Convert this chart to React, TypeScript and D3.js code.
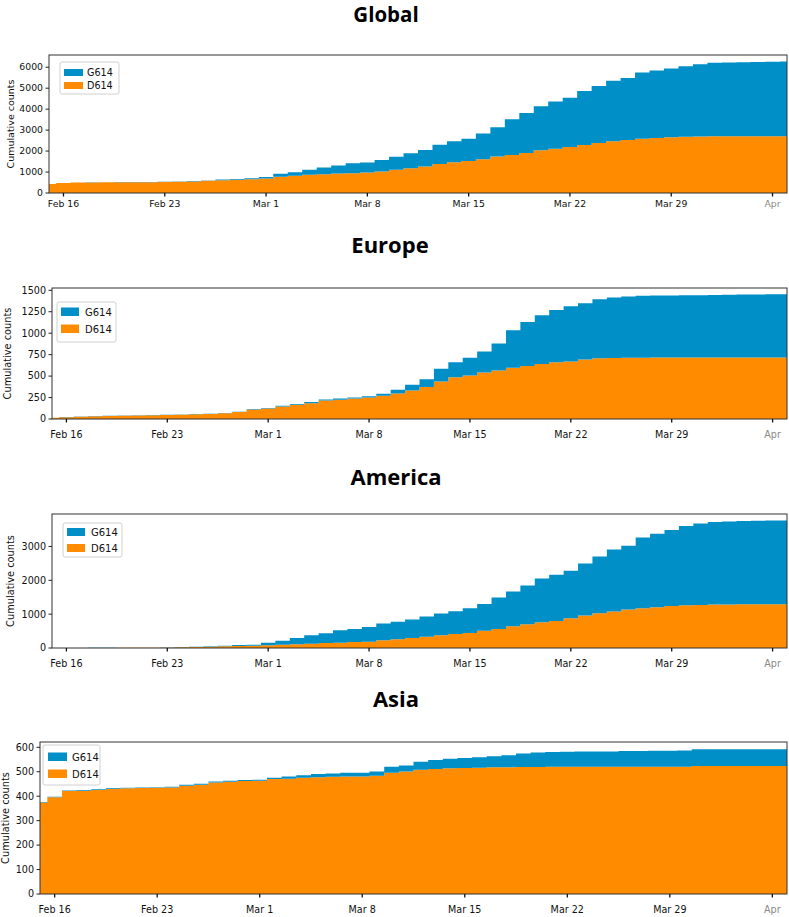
import React from 'react';
import * as d3 from 'd3';

// ---- categories (daily dates Feb 15 .. Apr 6, 2020) ----
const START = new Date(2020, 1, 15);
const END = new Date(2020, 3, 6);
const dates: Date[] = d3.timeDay.range(START, d3.timeDay.offset(END, 1));

// ---- tick labels ----
const tickDates: Date[] = [
  new Date(2020, 1, 16), new Date(2020, 1, 23), new Date(2020, 2, 1), new Date(2020, 2, 8),
  new Date(2020, 2, 15), new Date(2020, 2, 22), new Date(2020, 2, 29), new Date(2020, 3, 5),
];
const tickLabels = ['Feb 16', 'Feb 23', 'Mar 1', 'Mar 8', 'Mar 15', 'Mar 22', 'Mar 29', 'Apr'];

// ---- series: cumulative counts ----
const globalD614 = [427,474,500,505,508,512,515,518,522,537, 553,580,610,630,660,695,774,821,869,900, 932,948,980,1027,1104,1183,1262,1389,1469,1531, 1611,1737,1816,1911,2037,2116,2195,2290,2385,2464, 2527,2588,2622,2654,2685,2700,2702,2708,2710,2711, 2711,2711];
const globalG614 = [3,4,6,7,7,7,7,8,10,11, 15,20,30,38,45,65,142,174,237,316, 379,474,480,553,631,713,790,914,995,1057, 1232,1405,1705,1909,2100,2244,2355,2573,2715,2891, 2955,3161,3222,3284,3363,3442,3507,3515,3528,3541, 3554,3559];

const europeD614 = [15,20,27,32,35,38,42,44,47,50, 55,58,68,82,112,122,146,165,185,215, 225,238,250,272,296,331,373,438,488,508, 542,565,596,619,642,662,669,692,708,712, 714,715,716,716,717,717,718,718,718,718, 718,718];
const europeG614 = [1,2,2,2,2,2,2,2,2,2, 2,2,2,3,4,6,9,11,12,13, 13,13,15,23,46,69,89,147,174,207, 246,316,439,512,566,607,646,658,688,703, 713,720,722,723,725,726,728,729,732,733, 736,736];

const americaD614 = [1,2,2,3,3,4,5,6,10,25, 32,40,50,59,69,79,99,109,128,148, 158,178,188,227,257,296,336,375,415,444, 513,563,642,701,760,800,879,958,1027,1076, 1135,1175,1204,1244,1264,1273,1283,1285,1290,1293, 1293,1293];
const americaG614 = [1,1,1,1,2,2,2,3,5,5, 8,10,19,30,30,79,118,187,247,286, 365,385,434,494,518,543,592,642,671,731, 790,928,1026,1145,1293,1362,1401,1539,1678,1836, 1886,2093,2172,2241,2339,2409,2439,2456,2461,2468, 2478,2478];

const asiaD614 = [374,396,421,422,425,430,432,433,434,436, 443,447,456,459,462,463,470,471,475,477, 479,481,481,484,496,501,508,511,514,515, 516,518,518,519,519,520,520,520,520,520, 520,520,520,520,520,523,523,523,523,523, 523,523];
const asiaG614 = [2,2,2,3,3,3,3,3,3,3, 4,4,4,4,4,4,5,10,11,14, 14,15,15,17,24,25,33,37,39,41, 43,45,49,56,60,61,62,63,63,63, 65,65,66,66,67,69,69,69,69,69, 69,69];

const globalTicks = [0, 1000, 2000, 3000, 4000, 5000, 6000];
const europeTicks = [0, 250, 500, 750, 1000, 1250, 1500];
const americaTicks = [0, 1000, 2000, 3000];
const asiaTicks = [0, 100, 200, 300, 400, 500, 600];

const BLUE = '#008fc7';
const ORANGE = '#ff8c00';

type Layout = {
  left: number; right: number; top: number; bottom: number;
  titleX: number; titleY: number; titleFs: number; ylabelX: number; fs: number;
  xLabelDy: number;
  leg: { x: number; y: number; w: number; h: number; px: number; pw: number; ph: number; y1: number; y2: number; tx: number; fs: number };
};

function Panel({ title, d, g, yTicks, L }: { title: string; d: number[]; g: number[]; yTicks: number[]; L: Layout }) {
  const totals = d.map((v, i) => v + g[i]);
  const ymax = (d3.max(totals) as number) * 1.05;
  const x = d3.scaleTime().domain([START, END]).range([L.left, L.right]);
  const y = d3.scaleLinear().domain([0, ymax]).range([L.bottom, L.top]);
  const areaD = d3.area<number>()
    .x((_, i) => x(dates[i]))
    .y0(y(0))
    .y1((v) => y(v))
    .curve(d3.curveStep);
  const areaG = d3.area<number>()
    .x((_, i) => x(dates[i]))
    .y0((_, i) => y(d[i]))
    .y1((v, i) => y(d[i] + v))
    .curve(d3.curveStep);
  const font = 'DejaVu Sans, sans-serif';
  return (
    <g>
      <text x={L.titleX} y={L.titleY} textAnchor="middle" fontFamily="Open Sans, sans-serif" fontWeight={700} fontSize={L.titleFs} fill="#000">{title}</text>
      <path d={areaD(d) || ''} fill={ORANGE} />
      <path d={areaG(g) || ''} fill={BLUE} />
      <rect x={L.left} y={L.top} width={L.right - L.left} height={L.bottom - L.top} fill="none" stroke="#333" strokeWidth={1} />
      {yTicks.map((t) => (
        <g key={'y' + t}>
          <line x1={L.left - 3.5} x2={L.left} y1={y(t)} y2={y(t)} stroke="#222" strokeWidth={1} />
          <text x={L.left - 6} y={y(t)} dy="0.35em" textAnchor="end" fontFamily={font} fontSize={L.fs} fill="#111">{t}</text>
        </g>
      ))}
      {tickDates.map((t, i) => (
        <g key={'x' + i}>
          <line x1={x(t)} x2={x(t)} y1={L.bottom} y2={L.bottom + 3.5} stroke="#111" strokeWidth={1.3} />
          <text x={x(t)} y={L.bottom + L.xLabelDy} textAnchor="middle" fontFamily={font} fontSize={L.fs} fill={i === tickLabels.length - 1 ? '#888' : '#111'}>{tickLabels[i]}</text>
        </g>
      ))}
      <text transform={`translate(${L.ylabelX},${(L.top + L.bottom) / 2}) rotate(-90)`} textAnchor="middle" dy="0.35em" fontFamily={font} fontSize={L.fs + 0.2} fill="#111">Cumulative counts</text>
      <g>
        <rect x={L.leg.x} y={L.leg.y} width={L.leg.w} height={L.leg.h} rx={2} fill="#fff" fillOpacity={0.9} stroke="#d0d0d0" strokeWidth={1} />
        <rect x={L.leg.px} y={L.leg.y1 - L.leg.ph} width={L.leg.pw} height={L.leg.ph} fill={BLUE} />
        <rect x={L.leg.px} y={L.leg.y2 - L.leg.ph} width={L.leg.pw} height={L.leg.ph} fill={ORANGE} />
        <text x={L.leg.tx} y={L.leg.y1} fontFamily={font} fontSize={L.leg.fs} fill="#111">G614</text>
        <text x={L.leg.tx} y={L.leg.y2} fontFamily={font} fontSize={L.leg.fs} fill="#111">D614</text>
      </g>
    </g>
  );
}

const globalLayout: Layout = {
  left: 49, right: 787, top: 55, bottom: 193, titleX: 386, titleY: 22, titleFs: 20.5, ylabelX: 11, fs: 9.3, xLabelDy: 14,
  leg: { x: 60, y: 62, w: 59, h: 32, px: 64, pw: 19, ph: 7, y1: 76, y2: 89, tx: 87, fs: 9.6 },
};
const europeLayout: Layout = {
  left: 52, right: 787, top: 288, bottom: 419, titleX: 390, titleY: 253, titleFs: 22, ylabelX: 8, fs: 9.6, xLabelDy: 19,
  leg: { x: 57, y: 302, w: 59, h: 40, px: 61, pw: 18, ph: 8.5, y1: 316, y2: 333, tx: 85, fs: 10 },
};
const americaLayout: Layout = {
  left: 52, right: 787, top: 514, bottom: 648, titleX: 396, titleY: 485, titleFs: 22, ylabelX: 10.5, fs: 9.6, xLabelDy: 19,
  leg: { x: 63, y: 523, w: 59, h: 34, px: 67, pw: 18, ph: 8, y1: 536, y2: 552, tx: 91, fs: 10 },
};
const asiaLayout: Layout = {
  left: 40, right: 787, top: 742, bottom: 894, titleX: 396, titleY: 707, titleFs: 22, ylabelX: 6, fs: 9.6, xLabelDy: 19,
  leg: { x: 43, y: 745, w: 57, h: 40, px: 48, pw: 19, ph: 8.5, y1: 761, y2: 778, tx: 72, fs: 10 },
};

export default function App() {
  return (
    <svg width={789} height={917} style={{ position: 'absolute', left: 0, top: 0, background: '#fff' }}>
      <rect x={0} y={0} width={789} height={917} fill="#fff" />
      <Panel title="Global" d={globalD614} g={globalG614} yTicks={globalTicks} L={globalLayout} />
      <Panel title="Europe" d={europeD614} g={europeG614} yTicks={europeTicks} L={europeLayout} />
      <Panel title="America" d={americaD614} g={americaG614} yTicks={americaTicks} L={americaLayout} />
      <Panel title="Asia" d={asiaD614} g={asiaG614} yTicks={asiaTicks} L={asiaLayout} />
    </svg>
  );
}
